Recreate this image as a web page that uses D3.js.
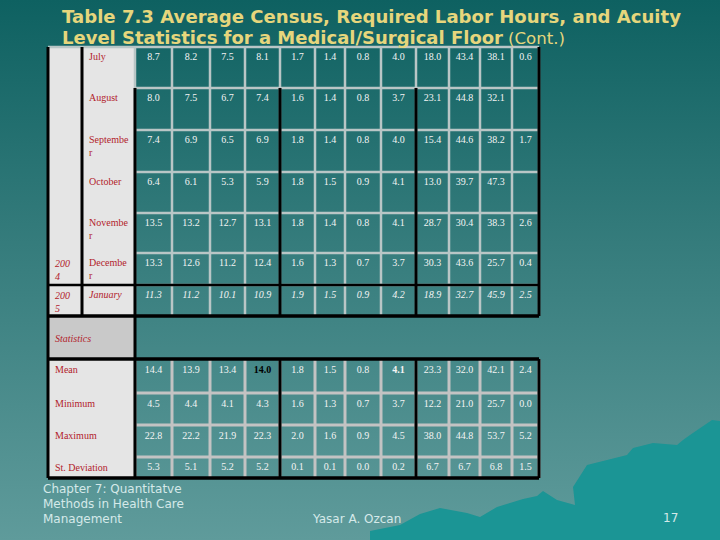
<!DOCTYPE html>
<html><head><meta charset="utf-8">
<script src="https://cdn.jsdelivr.net/npm/d3@7"></script>
<style>body{margin:0;background:#0f6262;} svg{display:block}</style>
</head><body><svg id="c" width="720" height="540"></svg>
<script>
// ---------- DATA ----------
const titleLine1 = "Table 7.3  Average Census, Required Labor Hours, and Acuity";
const titleLine2 = "Level Statistics for a Medical/Surgical Floor";
const titleCont = "(Cont.)";
const months = ["July", "August", "Septembe|r", "October", "Novembe|r", "Decembe|r", "January"];
const years = ["", "", "", "", "", "200|4", "200|5"];
const julyValues = [8.7, 8.2, 7.5, 8.1, 1.7, 1.4, 0.8, 4.0, 18.0, 43.4, 38.1, 0.6];
const augustValues = [8.0, 7.5, 6.7, 7.4, 1.6, 1.4, 0.8, 3.7, 23.1, 44.8, 32.1, null];
const septemberValues = [7.4, 6.9, 6.5, 6.9, 1.8, 1.4, 0.8, 4.0, 15.4, 44.6, 38.2, 1.7];
const octoberValues = [6.4, 6.1, 5.3, 5.9, 1.8, 1.5, 0.9, 4.1, 13.0, 39.7, 47.3, null];
const novemberValues = [13.5, 13.2, 12.7, 13.1, 1.8, 1.4, 0.8, 4.1, 28.7, 30.4, 38.3, 2.6];
const decemberValues = [13.3, 12.6, 11.2, 12.4, 1.6, 1.3, 0.7, 3.7, 30.3, 43.6, 25.7, 0.4];
const januaryValues = [11.3, 11.2, 10.1, 10.9, 1.9, 1.5, 0.9, 4.2, 18.9, 32.7, 45.9, 2.5];
const statsTitle = "Statistics";
const statLabels = ["Mean", "Minimum", "Maximum", "St. Deviation"];
const meanValues = [14.4, 13.9, 13.4, 14.0, 1.8, 1.5, 0.8, 4.1, 23.3, 32.0, 42.1, 2.4];
const minValues = [4.5, 4.4, 4.1, 4.3, 1.6, 1.3, 0.7, 3.7, 12.2, 21.0, 25.7, 0.0];
const maxValues = [22.8, 22.2, 21.9, 22.3, 2.0, 1.6, 0.9, 4.5, 38.0, 44.8, 53.7, 5.2];
const sdValues = [5.3, 5.1, 5.2, 5.2, 0.1, 0.1, 0.0, 0.2, 6.7, 6.7, 6.8, 1.5];
const footerLeft = ["Chapter 7: Quantitatve", "Methods in Health Care", "Management"];
const footerAuthor = "Yasar A. Ozcan";
const pageNumber = "17";

const monthRows = [julyValues, augustValues, septemberValues, octoberValues, novemberValues, decemberValues, januaryValues];
const statRows = [meanValues, minValues, maxValues, sdValues];

// ---------- LAYOUT ----------
const colEdges = [135, 172, 210, 245, 280, 315, 345, 381, 416, 449, 480, 512, 539];
const rowEdges = [47, 88, 130, 172, 213, 253, 285, 316];
const statEdges = [359, 393, 425, 457, 478];
const xEdge = d3.scaleOrdinal().domain(d3.range(colEdges.length)).range(colEdges);
const yRow = d3.scaleOrdinal().domain(d3.range(rowEdges.length)).range(rowEdges);
const yStat = d3.scaleOrdinal().domain(d3.range(statEdges.length)).range(statEdges);
const xCenter = i => (xEdge(i) + xEdge(i + 1)) / 2;
const fmt = d3.format(".1f");

const svg = d3.select("#c");
const defs = svg.append("defs");
const g = defs.append("linearGradient").attr("id", "bg").attr("x1", 0).attr("y1", 0).attr("x2", 0).attr("y2", 1);
g.append("stop").attr("offset", "0%").attr("stop-color", "#0e6161");
g.append("stop").attr("offset", "45%").attr("stop-color", "#357c7c");
g.append("stop").attr("offset", "100%").attr("stop-color", "#5f9b9b");
svg.append("rect").attr("width", 720).attr("height", 540).attr("fill", "url(#bg)");

// decorative mountain silhouette
const mountain = [[370,540],[370,531],[400,525],[420,514],[440,508],[467,513],[480,517],[497,507],[510,503],[523,499],[537,496],[543,491],[557,500],[575,505],[573,487],[587,465],[603,461],[627,455],[633,448],[653,443],[677,445],[683,440],[690,435],[712,420],[720,421],[720,540]];
svg.append("path").attr("d", d3.line()(mountain) + "Z").attr("fill", "#1b9595");

// label column fills
const light = "#e5e5e5";
svg.append("rect").attr("x", 48).attr("y", 47).attr("width", 87).attr("height", 269).attr("fill", light);
svg.append("rect").attr("x", 48).attr("y", 316).attr("width", 87).attr("height", 43).attr("fill", "#c9c9c9");
svg.append("rect").attr("x", 48).attr("y", 359).attr("width", 87).attr("height", 119).attr("fill", light);

// gray grid - upper
const gray1 = "#b9c6c6", gray2 = "#c3c3c3";
const grid = svg.append("g");
grid.selectAll(".hu").data(rowEdges.slice(0, 7)).join("line")
  .attr("x1", (d, i) => i === 0 ? 48 : 135).attr("x2", 539)
  .attr("y1", d => d).attr("y2", d => d)
  .attr("stroke", gray1).attr("stroke-width", 2.5);
grid.selectAll(".vu").data(colEdges).join("line")
  .attr("x1", d => d).attr("x2", d => d).attr("y1", 47).attr("y2", 316)
  .attr("stroke", gray1).attr("stroke-width", 2.5);
// gray grid - stats
grid.selectAll(".hs").data(statEdges.slice(1, 4)).join("line")
  .attr("x1", 135).attr("x2", 539).attr("y1", d => d).attr("y2", d => d)
  .attr("stroke", gray2).attr("stroke-width", 3);
grid.selectAll(".vs").data(colEdges).join("line")
  .attr("x1", d => d).attr("x2", d => d).attr("y1", 359).attr("y2", 478)
  .attr("stroke", gray2).attr("stroke-width", 3);

// black lines
const blacks = [
  [48, 47, 48, 478, 3], [82, 47, 82, 316, 3], [135, 88, 135, 478, 3],
  [280, 88, 280, 316, 3], [416, 88, 416, 316, 3], [539, 47, 539, 316, 3],
  [280, 359, 280, 478, 3], [416, 359, 416, 478, 3], [539, 359, 539, 478, 3],
  [48, 285, 539, 285, 2.5], [48, 316, 539, 316, 3.5], [48, 359, 539, 359, 3.5], [48, 478, 539, 478, 3.5]
];
svg.append("g").selectAll("line").data(blacks).join("line")
  .attr("x1", d => d[0]).attr("y1", d => d[1]).attr("x2", d => d[2]).attr("y2", d => d[3])
  .attr("stroke", "#000").attr("stroke-width", d => d[4]);

const serif = "'Liberation Serif', 'Times New Roman', serif";
const red = "#b2222b";

// month labels
const ml = svg.append("g").attr("font-family", serif).attr("font-size", 10).attr("fill", red);
months.forEach((m, i) => {
  const t = ml.append("text").attr("x", 89).attr("y", yRow(i) + 13)
    .attr("font-style", i === 6 ? "italic" : null);
  m.split("|").forEach((p, k) => t.append("tspan").attr("x", 89).attr("dy", k ? 13 : 0).text(p));
});
years.forEach((yv, i) => {
  if (!yv) return;
  const t = ml.append("text").attr("x", 55).attr("y", yRow(i) + 14).attr("font-style", "italic");
  yv.split("|").forEach((p, k) => t.append("tspan").attr("x", 55).attr("dy", k ? 13 : 0).text(p));
});
ml.append("text").attr("x", 55).attr("y", 342).attr("font-style", "italic").text(statsTitle);
statLabels.forEach((s, i) => {
  ml.append("text").attr("x", 55).attr("y", yStat(i) + 14).text(s);
});

// values
const vals = svg.append("g").attr("font-family", serif).attr("font-size", 10).attr("fill", "#f4f4f4").attr("text-anchor", "middle");
monthRows.forEach((row, r) => {
  vals.selectAll(null).data(row.map((v, c) => ({v, c}))).join("text")
    .filter(d => d.v !== null)
    .attr("x", d => xCenter(d.c)).attr("y", yRow(r) + 13)
    .attr("font-style", r === 6 ? "italic" : null)
    .text(d => fmt(d.v));
});
statRows.forEach((row, r) => {
  vals.selectAll(null).data(row.map((v, c) => ({v, c}))).join("text")
    .attr("x", d => xCenter(d.c)).attr("y", yStat(r) + (r === 3 ? 13 : 14))
    .attr("font-weight", d => (r === 0 && (d.c === 3 || d.c === 7)) ? "bold" : null)
    .attr("fill", d => (r === 0 && d.c === 3) ? "#000" : null)
    .text(d => fmt(d.v));
});

// title
const titleFont = "'DejaVu Sans', Verdana, sans-serif";
const tc = "#e6d67c";
svg.append("text").attr("x", 62).attr("y", 23).attr("font-family", titleFont).attr("font-weight", "bold")
  .attr("font-size", 17.5).attr("fill", tc).attr("textLength", 619).attr("lengthAdjust", "spacingAndGlyphs").text(titleLine1);
svg.append("text").attr("x", 62).attr("y", 44).attr("font-family", titleFont).attr("font-weight", "bold")
  .attr("font-size", 17.5).attr("fill", tc).attr("textLength", 441).attr("lengthAdjust", "spacingAndGlyphs").text(titleLine2);
svg.append("text").attr("x", 508).attr("y", 44).attr("font-family", titleFont)
  .attr("font-size", 16).attr("fill", tc).attr("textLength", 57).attr("lengthAdjust", "spacingAndGlyphs").text(titleCont);

// footer
const foot = svg.append("g").attr("font-family", titleFont).attr("font-size", 12).attr("fill", "#d5e9e9");
footerLeft.forEach((t, i) => foot.append("text").attr("x", 43).attr("y", 493 + i * 15).text(t));
foot.append("text").attr("x", 313).attr("y", 523).text(footerAuthor);
foot.append("text").attr("x", 663).attr("y", 522).text(pageNumber);
</script></body></html>
